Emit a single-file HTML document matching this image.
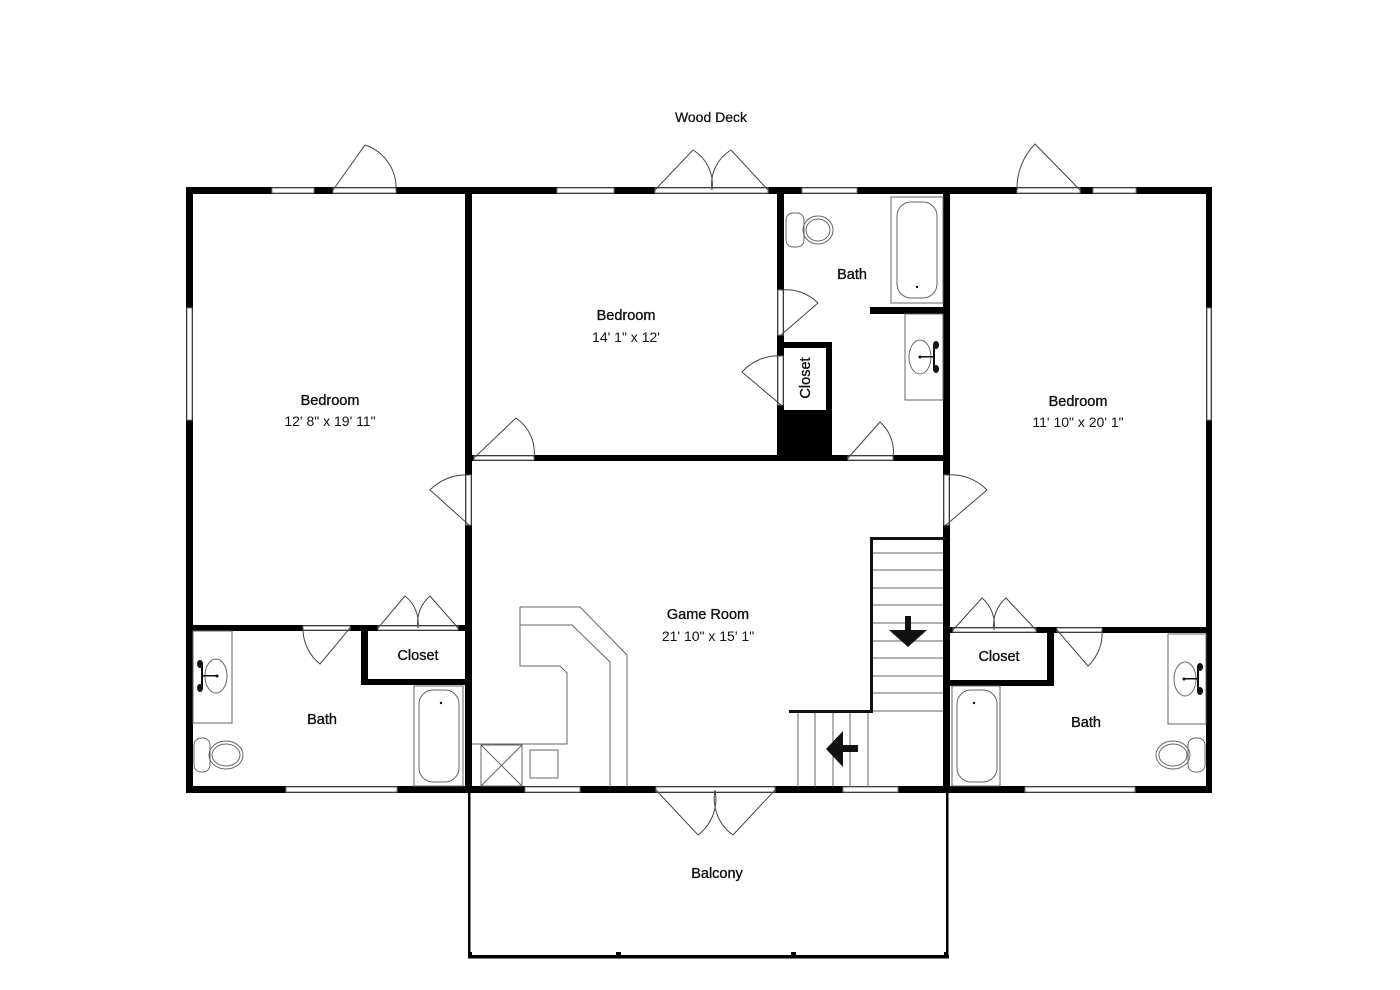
<!DOCTYPE html>
<html><head><meta charset="utf-8"><style>
html,body{margin:0;padding:0;background:#fff;}
svg{display:block;}
text{font-family:"Liberation Sans",Arial,sans-serif;fill:#111;text-anchor:middle;}
.n{font-size:14.5px;stroke:#111;stroke-width:0.35px;}
.d{font-size:14px;}
</style></head><body>
<svg width="1400" height="990" viewBox="0 0 1400 990" xmlns="http://www.w3.org/2000/svg">
<rect width="1400" height="990" fill="#fff"/>
<g fill="#000">
<!-- outer walls -->
<rect x="186" y="187" width="1026" height="7"/>
<rect x="186" y="187" width="7" height="606"/>
<rect x="1206" y="187" width="6" height="606"/>
<rect x="186" y="786" width="1026" height="7"/>
<!-- interior -->
<rect x="465" y="187" width="7" height="606"/>
<rect x="943" y="187" width="7" height="606"/>
<rect x="465" y="455" width="485" height="6"/>
<rect x="777" y="187" width="7" height="274"/>
<rect x="186" y="625" width="286" height="6"/>
<rect x="943" y="627" width="269" height="6"/>
<!-- left closet -->
<rect x="361" y="625" width="7" height="60"/>
<rect x="361" y="679" width="111" height="6"/>
<!-- right closet -->
<rect x="1047" y="627" width="7" height="59"/>
<rect x="943" y="680" width="111" height="6"/>
<!-- bath stub -->
<rect x="870" y="307" width="76" height="7"/>
<!-- small closet -->
<rect x="777" y="342" width="55" height="6"/>
<rect x="826" y="342" width="6" height="119"/>
<rect x="784" y="410" width="42" height="48"/>
</g>
<!-- window/door openings (white with thin gray outline) -->
<g fill="#fff" stroke="#777" stroke-width="1">
<rect x="272" y="188" width="42" height="5"/>
<rect x="333" y="188" width="63" height="5"/>
<rect x="557" y="188" width="57" height="5"/>
<rect x="655" y="188" width="113" height="5"/>
<rect x="802" y="188" width="55" height="5"/>
<rect x="1017" y="188" width="63" height="5"/>
<rect x="1093" y="188" width="43" height="5"/>
<rect x="187" y="308" width="5" height="112"/>
<rect x="1207" y="308" width="4" height="112"/>
<rect x="474" y="456" width="60" height="4"/>
<rect x="848" y="456" width="45" height="4"/>
<rect x="778" y="290" width="5" height="45"/>
<rect x="778" y="356" width="5" height="49"/>
<rect x="466" y="475" width="5" height="50"/>
<rect x="944" y="475" width="5" height="50"/>
<rect x="303" y="626" width="47" height="4"/>
<rect x="378" y="626" width="80" height="4"/>
<rect x="953" y="628" width="83" height="4"/>
<rect x="1057" y="628" width="45" height="4"/>
<rect x="286" y="787" width="111" height="5"/>
<rect x="525" y="787" width="55" height="5"/>
<rect x="656" y="787" width="119" height="5"/>
<rect x="843" y="787" width="55" height="5"/>
<rect x="1025" y="787" width="110" height="5"/>
</g>
<!-- door swings -->
<g fill="none" stroke="#444" stroke-width="1">
<path d="M333 190 L365 145 A45 45 0 0 1 396 190"/>
<path d="M655 190 L693 150 A40 40 0 0 1 712 190"/>
<path d="M712 190 A40 40 0 0 1 731 150 L768 190"/>
<path d="M1017 190 A63 63 0 0 1 1035 144 L1080 190"/>
<path d="M474 458 L516 418 A42 42 0 0 1 534 458"/>
<path d="M848 458 L880 422 A40 40 0 0 1 893 458"/>
<path d="M781 290 A45 45 0 0 1 818 303 L781 335"/>
<path d="M781 405 L742 372 A48 48 0 0 1 781 356"/>
<path d="M469 475 A50 50 0 0 0 430 490 L469 525"/>
<path d="M946 475 A50 50 0 0 1 987 490 L946 525"/>
<path d="M303 628 A45 45 0 0 0 320 664 L350 628"/>
<path d="M378 628 L405 596 A35 35 0 0 1 418 628"/>
<path d="M418 628 A35 35 0 0 1 430 596 L458 628"/>
<path d="M953 630 L982 598 A35 35 0 0 1 994 630"/>
<path d="M994 630 A35 35 0 0 1 1006 598 L1036 630"/>
<path d="M1102 630 A45 45 0 0 1 1088 666 L1057 630"/>
<path d="M656 790 L698 835 A45 45 0 0 0 715 790"/>
<path d="M715 790 A45 45 0 0 0 733 835 L775 790"/>
</g>
<!-- balcony -->
<g fill="#000">
<rect x="468" y="790" width="2.5" height="168"/>
<rect x="946" y="790" width="2.5" height="168"/>
<rect x="468" y="955" width="481" height="3.5"/>
<rect x="468" y="952" width="4" height="6"/>
<rect x="616" y="952" width="5" height="6"/>
<rect x="791" y="952" width="5" height="6"/>
<rect x="944" y="952" width="4" height="6"/>
</g>
<!-- fixtures -->
<g fill="none" stroke="#666" stroke-width="1">
<!-- top bath -->
<rect x="891" y="197" width="52" height="106"/>
<rect x="897" y="202" width="40" height="96" rx="14"/>
<rect x="786" y="213" width="18" height="34" rx="7"/>
<ellipse cx="818" cy="230" rx="15" ry="14"/>
<ellipse cx="818" cy="230" rx="12" ry="11"/>
<rect x="905" y="314" width="38" height="86"/>
<ellipse cx="920" cy="357" rx="11" ry="17"/>
<!-- left bath -->
<rect x="193" y="631" width="39" height="92"/>
<ellipse cx="216" cy="676" rx="11" ry="17"/>
<rect x="194" y="738" width="16" height="34" rx="7"/>
<ellipse cx="226" cy="755" rx="17" ry="14"/>
<ellipse cx="226" cy="755" rx="14" ry="11"/>
<rect x="414" y="686" width="49" height="100"/>
<rect x="419" y="690" width="40" height="92" rx="14"/>
<!-- right bath -->
<rect x="1168" y="634" width="38" height="90"/>
<ellipse cx="1185" cy="679" rx="11" ry="17"/>
<rect x="1188" y="738" width="17" height="34" rx="7"/>
<ellipse cx="1173" cy="755" rx="17" ry="14"/>
<ellipse cx="1173" cy="755" rx="14" ry="11"/>
<rect x="952" y="686" width="48" height="100"/>
<rect x="957" y="690" width="40" height="92" rx="14"/>
<!-- bar -->
<path d="M520 607 L580 607 L627 655 L627 787"/>
<path d="M520 625 L572 625 L610 662 L610 787"/>
<path d="M520 607 L520 666 L560 666 L567 673 L567 744 L472 744"/>
<rect x="481" y="745" width="41" height="41"/>
<path d="M481 745 L522 786 M522 745 L481 786"/>
<rect x="530" y="750" width="28" height="28"/>
<!-- stairs -->
<path d="M872 553 H943 M872 570 H943 M872 588 H943 M872 605 H943 M872 623 H943 M872 641 H943 M872 658 H943 M872 676 H943 M872 693 H943 M872 711 H943"/>
<path d="M798 712 V787 M815 712 V787 M833 712 V787 M850 712 V787 M868 712 V787"/>
</g>
<g fill="#111">
<circle cx="917" cy="287" r="1.2"/>
<circle cx="441" cy="703" r="1.2"/>
<circle cx="974" cy="703" r="1.2"/>
<circle cx="920" cy="357" r="1.5"/><rect x="920" y="356" width="14" height="1.5"/><rect x="933" y="344" width="2" height="26"/><ellipse cx="936" cy="345" rx="3" ry="4"/><ellipse cx="936" cy="369" rx="3" ry="4"/>
<circle cx="217" cy="676" r="1.5"/><rect x="202" y="675" width="15" height="1.5"/><rect x="201" y="663" width="2" height="26"/><ellipse cx="200" cy="664" rx="3" ry="4"/><ellipse cx="200" cy="688" rx="3" ry="4"/>
<circle cx="1184" cy="679" r="1.5"/><rect x="1184" y="678" width="14" height="1.5"/><rect x="1197" y="666" width="2" height="26"/><ellipse cx="1200" cy="667" rx="3" ry="4"/><ellipse cx="1200" cy="691" rx="3" ry="4"/>
<!-- stair outlines -->
<rect x="870" y="537" width="76" height="3"/>
<rect x="870" y="537" width="3" height="176"/>
<rect x="789" y="710" width="84" height="3"/>
<!-- arrows -->
<path d="M905 616 H911 V630 H927 L908 647 L889 630 H905 Z"/>
<path d="M826 749 L843 731 V745 H858 V752 H843 V767 Z"/>
</g>
<text x="805" y="378" class="n" transform="rotate(-90 805 378)" dy="5">Closet</text>
<text x="711" y="122" class="d" style="font-size:14px;stroke:#111;stroke-width:0.25px">Wood Deck</text>
<text x="330" y="405" class="n">Bedroom</text>
<text x="330" y="426" class="d">12' 8" x 19' 11"</text>
<text x="626" y="320" class="n">Bedroom</text>
<text x="626" y="342" class="d">14' 1" x 12'</text>
<text x="852" y="279" class="n">Bath</text>
<text x="1078" y="406" class="n">Bedroom</text>
<text x="1078" y="427" class="d">11' 10" x 20' 1"</text>
<text x="708" y="619" class="n">Game Room</text>
<text x="708" y="641" class="d">21' 10" x 15' 1"</text>
<text x="418" y="660" class="n">Closet</text>
<text x="322" y="724" class="n">Bath</text>
<text x="999" y="661" class="n">Closet</text>
<text x="1086" y="727" class="n">Bath</text>
<text x="717" y="878" class="n">Balcony</text>
</svg>
</body></html>
